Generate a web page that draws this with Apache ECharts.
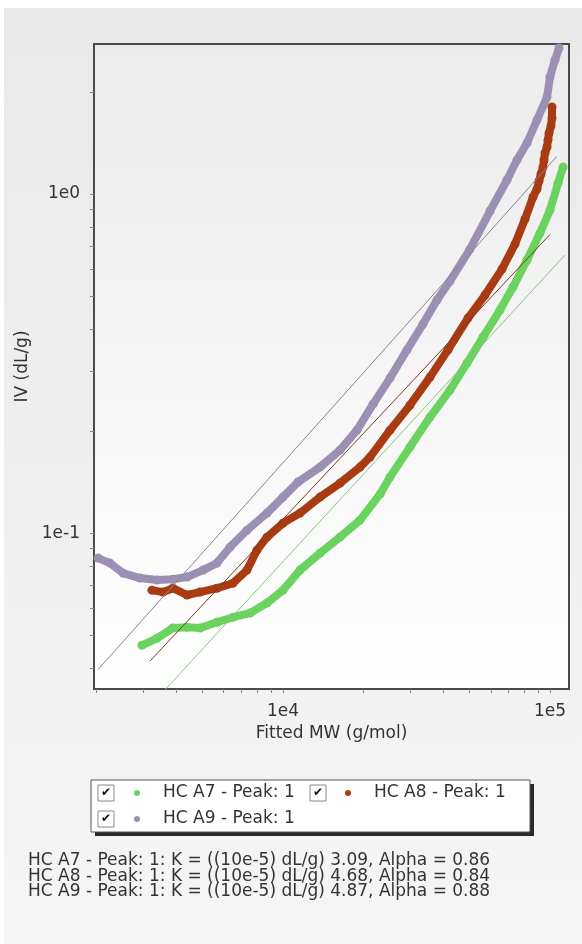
<!DOCTYPE html>
<html>
<head>
<meta charset="utf-8">
<script src="https://cdn.jsdelivr.net/npm/echarts@6/dist/echarts.min.js"></script>
<style>
html, body { margin: 0; padding: 0; background: #fff; }
#chart { width: 582px; height: 944px; }
</style>
</head>
<body>
<div id="chart"></div>
<script>
// sample names, colours
var sampleNames = ['HC A7 - Peak: 1', 'HC A8 - Peak: 1', 'HC A9 - Peak: 1'];
var sampleColors = ['#6ad25e', '#a83b12', '#9b90b4'];
var fitColors = ['#86c97c', '#7d3a1c', '#8a839c'];

// Mark-Houwink fit results
var kValues = ['3.09', '4.68', '4.87'];
var alphaValues = ['0.86', '0.84', '0.88'];

// HC A7 (MW g/mol, IV dL/g)
var a7MW = [2965, 3380, 3870, 4370, 4890, 5660, 6500, 7520, 8710, 10000, 11580, 13760, 16350, 19430, 23090, 25160, 29900, 35530, 42220, 48880, 56130, 64960, 72670, 82020, 91730, 100000, 107200, 111900];
var a7IV = [0.0467, 0.0490, 0.0525, 0.0528, 0.0525, 0.0546, 0.0565, 0.0581, 0.0622, 0.0679, 0.0778, 0.0873, 0.0973, 0.1092, 0.1303, 0.1463, 0.1794, 0.2199, 0.2641, 0.3173, 0.3787, 0.4547, 0.5317, 0.6389, 0.767, 0.897, 1.077, 1.201];

// HC A8
var a8MW = [3230, 3550, 3870, 4370, 4890, 5660, 6500, 7330, 7990, 8710, 10000, 11580, 13760, 16350, 19430, 21180, 25160, 29900, 35530, 41500, 49300, 57100, 66100, 73940, 80620, 86370, 89400, 90950, 92550, 94150, 94960, 95790, 97450, 98290, 99150, 100860, 101740, 101740];
var a8IV = [0.0679, 0.0670, 0.0688, 0.0657, 0.0670, 0.0688, 0.0712, 0.0778, 0.0891, 0.0973, 0.1070, 0.1146, 0.1277, 0.1404, 0.1566, 0.1676, 0.2012, 0.2385, 0.2885, 0.347, 0.4307, 0.5036, 0.6007, 0.7120, 0.8439, 0.980, 1.034, 1.092, 1.146, 1.201, 1.260, 1.321, 1.376, 1.443, 1.513, 1.587, 1.676, 1.806];

// HC A9
var a9MW = [2030, 2250, 2520, 2910, 3380, 3870, 4370, 5020, 5660, 6330, 7330, 8710, 10000, 11380, 13760, 16350, 18930, 21740, 25160, 29140, 33440, 37740, 42220, 50160, 59620, 69020, 75230, 82020, 89400, 97450, 100000, 104400, 108100];
var a9IV = [0.0844, 0.0816, 0.0762, 0.0737, 0.0727, 0.0731, 0.0742, 0.0778, 0.0816, 0.0909, 0.1020, 0.1146, 0.1277, 0.1414, 0.1566, 0.1757, 0.2012, 0.2401, 0.2866, 0.347, 0.4135, 0.487, 0.5538, 0.6882, 0.891, 1.100, 1.260, 1.414, 1.653, 1.932, 2.214, 2.485, 2.696];

// fit line end points (A7, A8, A9)
var fitMW = [[3000, 113800], [3180, 100000], [2030, 106000]];
var fitIV = [[0.0294, 0.661], [0.042, 0.76], [0.0396, 1.29]];

// axis ranges and ticks
var xRange = [1960, 117800];
var yRange = [0.0347, 2.77];
var xTicks = [2000, 3000, 4000, 5000, 6000, 7000, 8000, 9000, 10000, 20000, 30000, 40000, 50000, 60000, 70000, 80000, 90000, 100000];
var xLabels = [10000, 100000];
var yTicks = [0.04, 0.05, 0.06, 0.07, 0.08, 0.09, 0.1, 0.2, 0.3, 0.4, 0.5, 0.6, 0.7, 0.8, 0.9, 1, 2];
var yLabels = [0.1, 1];

var FONT = 'DejaVu Sans';

function lg(v) { return Math.log10(v); }
function toPts(ms, ivs) {
    return ms.map(function (m, i) { return [lg(m), lg(ivs[i])]; });
}

var chart = echarts.init(document.getElementById('chart'));

var sampleData = [toPts(a7MW, a7IV), toPts(a8MW, a8IV), toPts(a9MW, a9IV)];

var series = [];
sampleData.forEach(function (d, i) {
    series.push({
        name: sampleNames[i],
        type: 'line',
        data: d,
        symbol: 'circle',
        symbolSize: 9,
        showSymbol: true,
        lineStyle: { width: 8, color: sampleColors[i] },
        itemStyle: { color: sampleColors[i] },
        z: 2,
        silent: true
    });
});
fitMW.forEach(function (ms, i) {
    series.push({
        name: 'fit ' + i,
        type: 'line',
        data: toPts(ms, fitIV[i]),
        symbol: 'none',
        lineStyle: { width: 1, color: fitColors[i] },
        z: 3,
        silent: true
    });
});

var footText = sampleNames.map(function (n, i) {
    return n + ': K = ((10e-5) dL/g) ' + kValues[i] + ', Alpha = ' + alphaValues[i];
}).join('\n');

function legendItem(name, left, top) {
    return {
        data: [name],
        left: left,
        top: top,
        padding: 0,
        icon: 'circle',
        itemWidth: 42,
        itemHeight: 6,
        selectedMode: false,
        textStyle: { fontFamily: FONT, fontSize: 17, color: '#333', lineHeight: 20 }
    };
}

function checkBox(x, y) {
    return {
        type: 'group',
        children: [
            { type: 'rect', shape: { x: x, y: y, width: 16, height: 16 }, style: { fill: '#fff', stroke: '#8a8a8a', lineWidth: 1 } },
            { type: 'text', x: x + 8, y: y + 8, style: { text: '\u2714', fill: '#111', font: 'bold 12px DejaVu Sans', align: 'center', verticalAlign: 'middle' } }
        ]
    };
}

option = {
    animation: false,
    backgroundColor: new echarts.graphic.LinearGradient(0, 0, 0, 1, [
        { offset: 0, color: '#e9e9e9' },
        { offset: 1, color: '#f5f5f5' }
    ]),
    title: {
        text: footText,
        left: 28,
        top: 853,
        padding: 0,
        textStyle: { fontFamily: FONT, fontSize: 17, fontWeight: 'normal', color: '#333', lineHeight: 15.5 }
    },
    grid: {
        left: 94,
        right: 13,
        top: 44,
        bottom: 255,
        show: true,
        borderColor: '#4a4a4a',
        borderWidth: 2,
        backgroundColor: new echarts.graphic.LinearGradient(0, 0, 0, 1, [
            { offset: 0, color: '#ebebeb' },
            { offset: 1, color: '#ffffff' }
        ])
    },
    legend: [
        legendItem(sampleNames[0], 134, 783),
        legendItem(sampleNames[1], 345, 783),
        legendItem(sampleNames[2], 134, 809)
    ],
    graphic: [
        { type: 'rect', shape: { x: 0, y: 0, width: 582, height: 8 }, style: { fill: '#fff' } },
        { type: 'rect', shape: { x: 0, y: 0, width: 4, height: 944 }, style: { fill: '#fff' } },
        // legend frame: drop shadow, then white box
        { type: 'rect', shape: { x: 95, y: 784, width: 439, height: 52 }, style: { fill: '#2a2a2a' } },
        { type: 'rect', shape: { x: 91, y: 780, width: 439, height: 52 }, style: { fill: '#fff', stroke: '#555', lineWidth: 1 } },
        checkBox(98, 785),
        checkBox(310, 785),
        checkBox(98, 811)
    ],
    xAxis: {
        type: 'value',
        min: lg(xRange[0]),
        max: lg(xRange[1]),
        name: 'Fitted MW (g/mol)',
        nameLocation: 'middle',
        nameGap: 33,
        nameTextStyle: { fontFamily: FONT, fontSize: 17, color: '#333' },
        axisLine: { show: false, onZero: false },
        splitLine: { show: false },
        axisTick: { show: true, length: 4, customValues: xTicks.map(lg), lineStyle: { color: '#888' } },
        axisLabel: {
            customValues: xLabels.map(lg),
            margin: 14,
            fontFamily: FONT,
            fontSize: 17,
            color: '#333',
            formatter: function (v) { return '1e' + Math.round(v); }
        }
    },
    yAxis: {
        type: 'value',
        min: lg(yRange[0]),
        max: lg(yRange[1]),
        name: 'IV (dL/g)',
        nameLocation: 'middle',
        nameGap: 42,
        nameTextStyle: { fontFamily: FONT, fontSize: 17, color: '#333' },
        axisLine: { show: false, onZero: false },
        splitLine: { show: false },
        axisTick: { show: true, length: 4, customValues: yTicks.map(lg), lineStyle: { color: '#888' } },
        axisLabel: {
            customValues: yLabels.map(lg),
            margin: 14,
            fontFamily: FONT,
            fontSize: 17,
            color: '#333',
            formatter: function (v) { return '1e' + Math.round(v); }
        }
    },
    series: series
};

chart.setOption(option);
</script>
</body>
</html>
